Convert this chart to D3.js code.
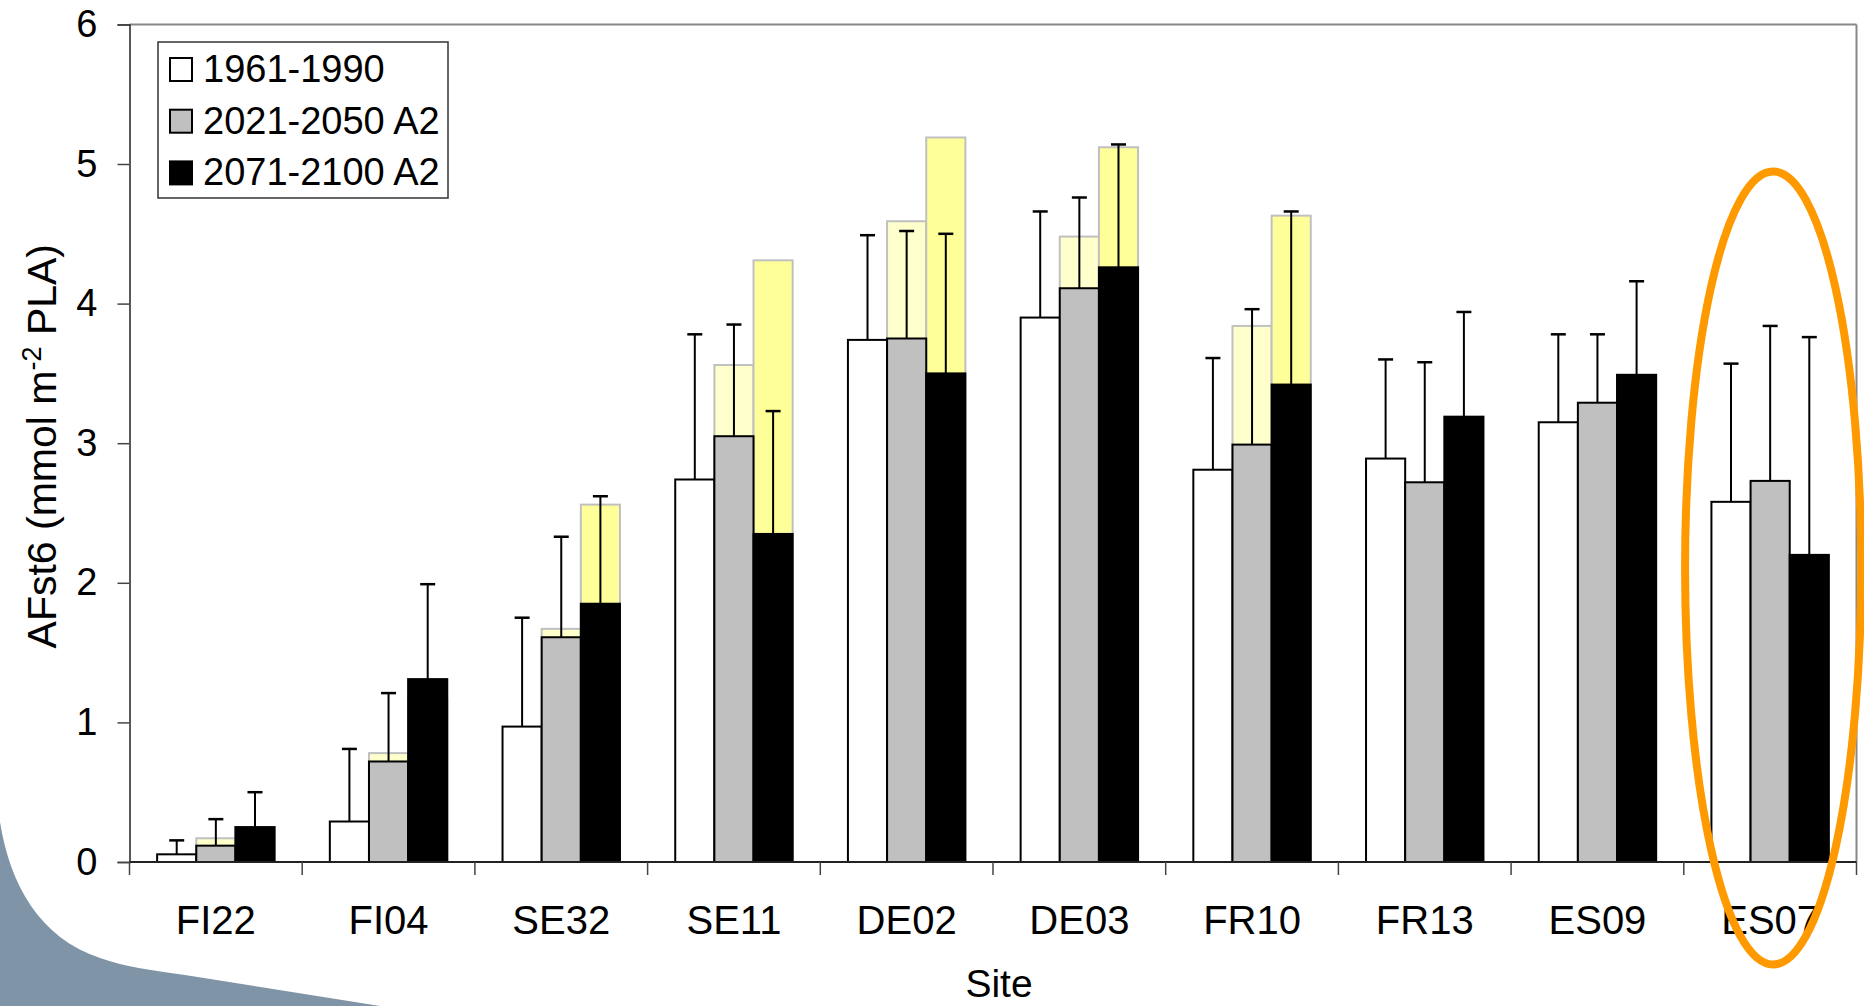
<!DOCTYPE html>
<html lang="en">
<head>
    <meta charset="UTF-8">
    <title>AFst6 by site</title>
    <script src="https://cdn.jsdelivr.net/npm/d3@7"></script>
    <style>
        body { margin: 0; background: #fff; }
        text { font-family: "Liberation Sans", Arial, sans-serif; }
    </style>
</head>
<body>
    <div id="chart"></div>
    <script>
        // sites on the x axis
        const sites = ["FI22", "FI04", "SE32", "SE11", "DE02", "DE03", "FR10", "FR13", "ES09", "ES07"]
        const periods = ["1961-1990", "2021-2050 A2", "2071-2100 A2"]
        const yTicks = [0, 1, 2, 3, 4, 5, 6]

        // bar heights
        const base = [0.055, 0.29, 0.97, 2.74, 3.74, 3.90, 2.81, 2.89, 3.15, 2.58]
        const mid = [0.117, 0.72, 1.61, 3.05, 3.75, 4.11, 2.99, 2.72, 3.29, 2.73]
        const late = [0.25, 1.31, 1.85, 2.35, 3.50, 4.26, 3.42, 3.19, 3.49, 2.20]
        // error bars (upper only)
        const baseErr = [0.10, 0.52, 0.78, 1.04, 0.75, 0.76, 0.80, 0.71, 0.63, 0.99]
        const midErr = [0.19, 0.49, 0.72, 0.80, 0.77, 0.65, 0.97, 0.86, 0.49, 1.11]
        const lateErr = [0.25, 0.68, 0.77, 0.88, 1.00, 0.88, 1.24, 0.75, 0.67, 1.56]
        // yellow bars behind the future periods
        const midAlt = [0.17, 0.78, 1.67, 3.56, 4.59, 4.48, 3.84, null, null, null]
        const lateAlt = [0.25, 1.17, 2.56, 4.31, 5.19, 5.12, 4.63, null, null, null]

        const fills = ["#ffffff", "#c0c0c0", "#000000"]
        const altFills = [null, "#ffffcc", "#ffff99"]

        const width = 1864
        const height = 1006
        const margin = { top: 24.4, left: 129.5, right: 7.5, bottom: 144 }
        const w = width - margin.left - margin.right
        const h = height - margin.top - margin.bottom

        const svg = d3.select("#chart").append("svg").attr("width", width).attr("height", height)

        // slide decoration in the bottom-left corner
        svg.append("path")
            .attr("d", "M0,822 C10,885 40,938 100,958 C125,967 150,970 185,975 L380,1006 L0,1006 Z")
            .attr("fill", "#7f95a7")

        const g = svg.append("g").attr("transform", `translate(${margin.left},${margin.top})`)

        const x0 = d3.scaleBand().domain(sites).range([0, w]).paddingInner(0.32).paddingOuter(0.16)
        const x1 = d3.scaleBand().domain(periods).range([0, x0.bandwidth()])
        const y = d3.scaleLinear().domain([0, 6]).range([h, 0])

        // frame: top and right in grey
        g.append("line").attr("x1", 0).attr("x2", w).attr("y1", 0).attr("y2", 0)
            .attr("stroke", "#888").attr("stroke-width", 2)
        g.append("line").attr("x1", w).attr("x2", w).attr("y1", 0).attr("y2", h)
            .attr("stroke", "#888").attr("stroke-width", 2)

        const rows = sites.map((s, i) => ({
            site: s,
            vals: [base[i], mid[i], late[i]],
            errs: [baseErr[i], midErr[i], lateErr[i]],
            alts: [null, midAlt[i], lateAlt[i]]
        }))

        const groups = g.selectAll(".site").data(rows).enter().append("g")
            .attr("transform", d => `translate(${x0(d.site)},0)`)

        // yellow bars first
        groups.selectAll(".alt").data(d => d.alts.map((v, k) => ({ v, k })).filter(a => a.v != null))
            .enter().append("rect")
            .attr("x", d => x1(periods[d.k]))
            .attr("y", d => y(d.v))
            .attr("width", x1.bandwidth())
            .attr("height", d => h - y(d.v))
            .attr("fill", d => altFills[d.k])
            .attr("stroke", "#c0c0c0").attr("stroke-width", 2)

        groups.selectAll(".bar").data(d => d.vals.map((v, k) => ({ v, k })))
            .enter().append("rect")
            .attr("x", d => x1(periods[d.k]))
            .attr("y", d => y(d.v))
            .attr("width", x1.bandwidth())
            .attr("height", d => h - y(d.v))
            .attr("fill", d => fills[d.k])
            .attr("stroke", "#000").attr("stroke-width", 2)

        // error bars
        const eb = groups.selectAll(".err").data(d => d.vals.map((v, k) => ({ v, e: d.errs[k], k })))
            .enter().append("g")
            .attr("transform", d => `translate(${x1(periods[d.k]) + x1.bandwidth() / 2},0)`)
        eb.append("line").attr("x1", 0).attr("x2", 0)
            .attr("y1", d => y(d.v)).attr("y2", d => y(d.v + d.e))
            .attr("stroke", "#000").attr("stroke-width", 2)
        eb.append("line").attr("x1", -7.5).attr("x2", 7.5)
            .attr("y1", d => y(d.v + d.e)).attr("y2", d => y(d.v + d.e))
            .attr("stroke", "#000").attr("stroke-width", 2.5)

        // y axis
        const yAxis = g.append("g").call(d3.axisLeft(y).tickValues(yTicks).tickSize(12).tickPadding(20).tickFormat(d3.format("d")))
        yAxis.select(".domain").attr("stroke", "#222").attr("stroke-width", 1.5)
        yAxis.selectAll(".tick line").attr("stroke", "#444").attr("stroke-width", 1.5)
        yAxis.selectAll("text").attr("font-size", 38).attr("fill", "#000")
            .attr("font-family", "Liberation Sans, Arial, sans-serif")

        // x axis, ticks between sites
        g.append("line").attr("x1", 0).attr("x2", w).attr("y1", h).attr("y2", h)
            .attr("stroke", "#222").attr("stroke-width", 2)
        const bounds = sites.map(s => x0(s) - x0.step() * x0.paddingInner() / 2).concat([w])
        g.selectAll(".xtick").data(bounds).enter().append("line")
            .attr("x1", d => d).attr("x2", d => d).attr("y1", h).attr("y2", h + 13)
            .attr("stroke", "#444").attr("stroke-width", 1.5)
        g.selectAll(".xlab").data(sites).enter().append("text")
            .attr("x", d => x0(d) + x0.bandwidth() / 2)
            .attr("y", h + 72)
            .attr("text-anchor", "middle").attr("font-size", 40)
            .text(d => d)

        g.append("text").attr("x", w / 2 + 6).attr("y", h + 135)
            .attr("text-anchor", "middle").attr("font-size", 39).text("Site")

        const yt = svg.append("text").attr("transform", `translate(56,${margin.top + h / 2 + 3}) rotate(-90)`)
            .attr("text-anchor", "middle").attr("font-size", 41)
        yt.append("tspan").text("AFst6 (mmol m")
        yt.append("tspan").attr("baseline-shift", "super").attr("font-size", 27).text("-2")
        yt.append("tspan").text(" PLA)")

        // legend
        const lg = g.append("g").attr("transform", "translate(28.5,17.6)")
        lg.append("rect").attr("width", 290).attr("height", 156).attr("fill", "#fff")
            .attr("stroke", "#333").attr("stroke-width", 1.5)
        const li = lg.selectAll(".li").data(periods).enter().append("g")
            .attr("transform", (d, i) => `translate(12,${16 + i * 51.7})`)
        li.append("rect").attr("width", 22).attr("height", 23)
            .attr("fill", (d, i) => fills[i]).attr("stroke", "#000").attr("stroke-width", 2)
        li.append("text").attr("x", 33).attr("y", 24).attr("font-size", 38).text(d => d)

        // orange ring around ES07
        const es = x0("ES07") + x0.bandwidth() / 2
        g.append("ellipse")
            .attr("cx", es + 3).attr("cy", y(2.106))
            .attr("rx", x0.step() * 0.51).attr("ry", y(0) - y(2.84))
            .attr("fill", "none").attr("stroke", "#ff9900").attr("stroke-width", 8)
    </script>
</body>
</html>
